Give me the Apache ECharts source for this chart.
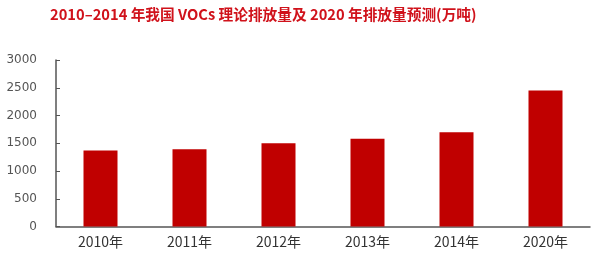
<!DOCTYPE html>
<html><head><meta charset="utf-8">
<script src="https://cdn.jsdelivr.net/npm/echarts@6/dist/echarts.min.js"></script>
<style>html,body{margin:0;padding:0;background:#fff}#c{width:600px;height:256px}</style>
</head><body><div id="c"></div>
<script>
var titleText = '2010\u20132014 年我国 VOCs 理论排放量及 2020 年排放量预测(万吨)';
var categories = ['2010年', '2011年', '2012年', '2013年', '2014年', '2020年'];
var emissions = [1370, 1390, 1500, 1580, 1700, 2450];
var yTicks = [0, 500, 1000, 1500, 2000, 2500, 3000];

var chart = echarts.init(document.getElementById('c'), null, {renderer: 'canvas'});
chart.setOption({
  animation: false,
  title: {
    text: titleText, left: 45, top: 2,
    textStyle: {color: '#d0121b', fontSize: 14.7, fontWeight: 'bold', fontFamily: '"Noto Sans CJK SC", sans-serif'}
  },
  grid: {left: 56, right: 10, top: 60, bottom: 29.5, containLabel: false},
  xAxis: {
    type: 'category', data: categories,
    axisLine: {lineStyle: {color: '#555', width: 1.5}},
    axisTick: {inside: true, length: 5, lineStyle: {color: '#555'}},
    axisLabel: {color: '#333', fontSize: 14, margin: 8, fontFamily: '"Noto Sans CJK SC", sans-serif'}
  },
  yAxis: {
    type: 'value', min: yTicks[0], max: yTicks[yTicks.length - 1], interval: 500,
    axisLine: {show: true, lineStyle: {color: '#555', width: 1.5}},
    axisTick: {show: true, inside: true, length: 4, lineStyle: {color: '#555'}},
    splitLine: {show: false},
    axisLabel: {color: '#555', fontSize: 12, margin: 19, fontFamily: '"DejaVu Sans", sans-serif', formatter: function (v) { return String(v); }}
  },
  series: [{
    type: 'bar', data: emissions, barWidth: 34,
    itemStyle: {color: '#c00000'}
  }]
});
</script></body></html>
